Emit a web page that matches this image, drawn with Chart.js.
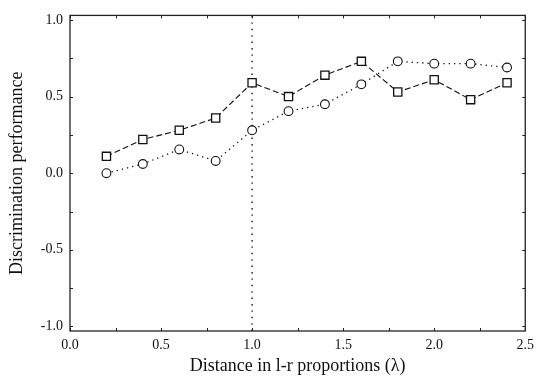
<!DOCTYPE html>
<html>
<head>
<meta charset="utf-8">
<script src="https://cdn.jsdelivr.net/npm/chart.js@4"></script>
<style>
  html, body { margin: 0; padding: 0; background: #fff; }
  #wrap { width: 540px; height: 380px; }
</style>
</head>
<body>
<div id="wrap"><canvas id="c" width="540" height="380"></canvas></div>
<script>
// ---- data ----
const lambdas = [0.2, 0.4, 0.6, 0.8, 1.0, 1.2, 1.4, 1.6, 1.8, 2.0, 2.2, 2.4];
const squareSeries = [0.11, 0.22, 0.28, 0.36, 0.59, 0.50, 0.64, 0.73, 0.53, 0.61, 0.48, 0.59];
const circleSeries = [0.00, 0.06, 0.155, 0.08, 0.28, 0.405, 0.45, 0.58, 0.73, 0.715, 0.715, 0.69];
const refLineX = 1.0;
const xTicks = [0, 0.25, 0.5, 0.75, 1.0, 1.25, 1.5, 1.75, 2.0, 2.25, 2.5];
const yTicks = [-1.0, -0.75, -0.5, -0.25, 0, 0.25, 0.5, 0.75, 1.0];
const xRange = [0, 2.5];
const yRange = [-1.03, 1.03];

const toXY = (xs, ys) => xs.map((x, i) => ({ x: x, y: ys[i] }));
const isMajor = v => Math.abs(v * 2 - Math.round(v * 2)) < 1e-9;

const serif = "'Liberation Serif', 'Times New Roman', serif";
const ink = '#111';

const framePlugin = {
  id: 'frame',
  afterDraw(chart) {
    const { ctx, chartArea: a, scales } = chart;
    ctx.save();
    ctx.strokeStyle = '#222';
    ctx.lineWidth = 1.3;
    ctx.strokeRect(a.left, a.top, a.right - a.left, a.bottom - a.top);
    ctx.lineWidth = 1;
    const tl = 3;
    ctx.beginPath();
    xTicks.forEach(v => {
      const px = Math.round(scales.x.getPixelForValue(v)) + 0.5;
      ctx.moveTo(px, a.bottom); ctx.lineTo(px, a.bottom - tl);
      ctx.moveTo(px, a.top); ctx.lineTo(px, a.top + tl);
    });
    yTicks.forEach(v => {
      const py = Math.round(scales.y.getPixelForValue(v)) + 0.5;
      ctx.moveTo(a.left, py); ctx.lineTo(a.left + tl, py);
      ctx.moveTo(a.right, py); ctx.lineTo(a.right - tl, py);
    });
    ctx.stroke();
    ctx.restore();
  }
};

new Chart(document.getElementById('c'), {
  type: 'scatter',
  data: {
    datasets: [
      {
        label: 'ref',
        data: [{ x: refLineX, y: yRange[0] }, { x: refLineX, y: yRange[1] }],
        showLine: true,
        borderColor: ink,
        borderWidth: 1.4,
        borderDash: [1.4, 5],
        pointRadius: 0,
        order: 3
      },
      {
        label: 'squares',
        data: toXY(lambdas, squareSeries),
        showLine: true,
        borderColor: ink,
        borderWidth: 1.1,
        borderDash: [6, 3],
        pointStyle: 'rect',
        pointRadius: 5.8,
        pointBorderWidth: 1.3,
        pointBorderColor: ink,
        pointBackgroundColor: '#fff',
        order: 1
      },
      {
        label: 'circles',
        data: toXY(lambdas, circleSeries),
        showLine: true,
        borderColor: ink,
        borderWidth: 1.3,
        borderDash: [1.3, 4],
        pointStyle: 'circle',
        pointRadius: 4.4,
        pointBorderWidth: 1.1,
        pointBorderColor: ink,
        pointBackgroundColor: '#fff',
        order: 2
      }
    ]
  },
  options: {
    responsive: false,
    animation: false,
    events: [],
    layout: { padding: { top: 13, right: 10, bottom: 0, left: 0 } },
    plugins: { legend: { display: false }, tooltip: { enabled: false } },
    scales: {
      x: {
        type: 'linear',
        min: xRange[0], max: xRange[1],
        afterBuildTicks: s => { s.ticks = xTicks.map(v => ({ value: v })); },
        afterFit: s => { s.height = 49; },
        grid: { display: false, drawTicks: false },
        border: { display: false },
        ticks: {
          padding: 6,
          color: ink,
          maxRotation: 0,
          autoSkip: false,
          font: { family: serif, size: 14 },
          callback: v => isMajor(v) ? v.toFixed(1) : ''
        },
        title: {
          display: true,
          text: 'Distance in l-r proportions (λ)',
          color: ink,
          font: { family: serif, size: 18 },
          padding: { top: 0, bottom: 3 }
        }
      },
      y: {
        type: 'linear',
        min: yRange[0], max: yRange[1],
        afterBuildTicks: s => { s.ticks = yTicks.map(v => ({ value: v })); },
        afterFit: s => { s.width = 70; },
        grid: { display: false, drawTicks: false },
        border: { display: false },
        ticks: {
          padding: 7,
          color: ink,
          autoSkip: false,
          font: { family: serif, size: 14 },
          callback: v => isMajor(v) ? v.toFixed(1) : ''
        },
        title: {
          display: true,
          text: 'Discrimination performance',
          color: ink,
          font: { family: serif, size: 18 },
          padding: { top: 6, bottom: 0 }
        }
      }
    }
  },
  plugins: [framePlugin]
});
</script>
</body>
</html>
